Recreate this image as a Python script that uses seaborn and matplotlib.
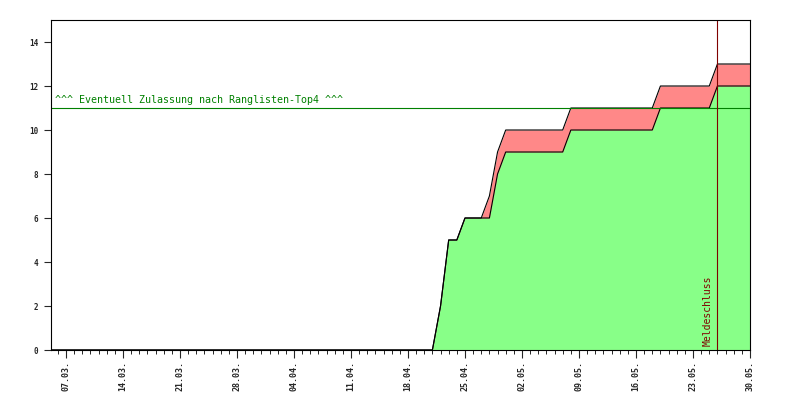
import pandas as pd
import matplotlib.pyplot as plt
import matplotlib.dates as mdates
import seaborn as sns

# breakpoints of the cumulative curves (linear between days)
DATES = ['2010-03-05', '2010-04-21', '2010-04-22', '2010-04-23', '2010-04-24',
         '2010-04-25', '2010-04-27', '2010-04-28', '2010-04-29', '2010-04-30',
         '2010-05-07', '2010-05-08', '2010-05-18', '2010-05-19', '2010-05-25',
         '2010-05-26', '2010-05-30']
ZUGELASSEN = [0, 0, 2, 5, 5, 6, 6, 6, 8, 9, 9, 10, 10, 11, 11, 12, 12]
GEMELDET = [0, 0, 2, 5, 5, 6, 6, 7, 9, 10, 10, 11, 11, 12, 12, 13, 13]

TICK_DATES = ['2010-03-07', '2010-03-14', '2010-03-21', '2010-03-28', '2010-04-04',
              '2010-04-11', '2010-04-18', '2010-04-25', '2010-05-02', '2010-05-09',
              '2010-05-16', '2010-05-23', '2010-05-30']
MELDESCHLUSS = '2010-05-26'
LIMIT = 11
LIMIT_TEXT = '^^^ Eventuell Zulassung nach Ranglisten-Top4 ^^^'


def plot_meldungen():
    df = pd.DataFrame({'datum': pd.to_datetime(DATES),
                       'zugelassen': ZUGELASSEN,
                       'gemeldet': GEMELDET})

    sns.set_style('white')
    plt.rcParams['font.family'] = ['DejaVu Sans Mono']

    fig = plt.figure(figsize=(8, 4), dpi=100)
    ax = fig.add_axes([51 / 800, 50 / 400, 699 / 800, 330 / 400])

    ax.fill_between(df['datum'], 0, df['gemeldet'], color='#ff8888', lw=0)
    ax.fill_between(df['datum'], 0, df['zugelassen'], color='#88ff88', lw=0)
    sns.lineplot(data=df, x='datum', y='gemeldet', color='black', lw=0.8, ax=ax)
    sns.lineplot(data=df, x='datum', y='zugelassen', color='black', lw=0.8, ax=ax)

    ax.axhline(LIMIT, color='#008000', lw=0.8)
    ax.text(0.006, LIMIT + 0.15, LIMIT_TEXT, transform=ax.get_yaxis_transform(),
            color='#008000', fontsize=7.2, va='bottom', ha='left')

    ms = pd.Timestamp(MELDESCHLUSS)
    ax.axvline(ms, color='#800000', lw=0.8)
    ax.text(ms - pd.Timedelta(hours=14), 0.2, 'Meldeschluss', rotation=90,
            color='#800000', fontsize=7, ha='right', va='bottom')

    ax.set_xlim(pd.Timestamp('2010-03-05 04:00'), pd.Timestamp('2010-05-30'))
    ax.set_ylim(0, 15)
    ax.set_yticks(range(0, 15, 2))
    ax.set_xticks(pd.to_datetime(TICK_DATES))
    ax.xaxis.set_major_formatter(mdates.DateFormatter('%d.%m.'))
    ax.xaxis.set_minor_locator(mdates.DayLocator())
    ax.tick_params(axis='x', which='major', length=6, width=0.8, labelsize=6,
                   labelrotation=90, pad=2, direction='out', bottom=True)
    ax.tick_params(axis='x', which='minor', length=3, width=0.7,
                   direction='out', bottom=True)
    ax.tick_params(axis='y', length=5, width=0.8, labelsize=5.5, pad=4,
                   direction='out', left=True)
    for label in ax.get_xticklabels() + ax.get_yticklabels():
        label.set_fontweight('bold')

    for sp in ax.spines.values():
        sp.set_color('black')
        sp.set_linewidth(0.8)
    ax.set_xlabel('')
    ax.set_ylabel('')
    ax.grid(False)

    fig.savefig('out.png', dpi=100)


if __name__ == "__main__":
    plot_meldungen()
